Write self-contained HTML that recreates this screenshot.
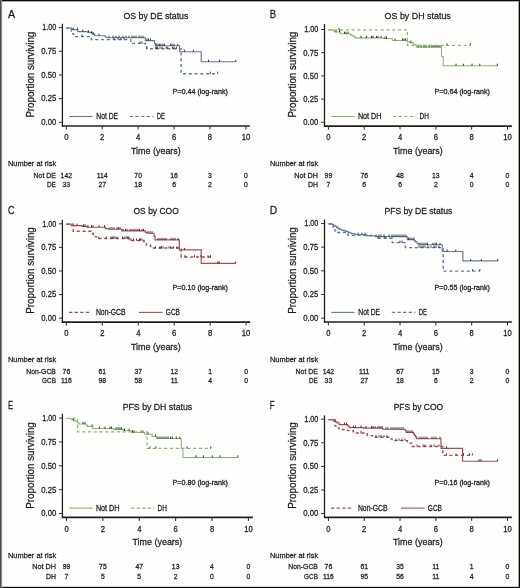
<!DOCTYPE html>
<html><head><meta charset="utf-8"><style>
html,body{margin:0;padding:0;background:#fff;}
svg{display:block;}
text{font-family:"Liberation Sans",sans-serif;stroke:#231f20;stroke-width:0.28px;}
</style></head><body>
<svg width="520" height="588" viewBox="0 0 520 588">
<rect x="0" y="0" width="520" height="588" fill="#fefefd"/>
<line x1="62.40" y1="23.80" x2="62.40" y2="126.60" stroke="#231f20" stroke-width="1.3"/>
<line x1="61.80" y1="126.00" x2="249.80" y2="126.00" stroke="#231f20" stroke-width="1.6"/>
<line x1="59.00" y1="27.60" x2="62.40" y2="27.60" stroke="#231f20" stroke-width="0.9"/>
<line x1="59.00" y1="51.27" x2="62.40" y2="51.27" stroke="#231f20" stroke-width="0.9"/>
<line x1="59.00" y1="74.95" x2="62.40" y2="74.95" stroke="#231f20" stroke-width="0.9"/>
<line x1="59.00" y1="98.62" x2="62.40" y2="98.62" stroke="#231f20" stroke-width="0.9"/>
<line x1="59.00" y1="122.30" x2="62.40" y2="122.30" stroke="#231f20" stroke-width="0.9"/>
<line x1="66.30" y1="126.10" x2="66.30" y2="129.50" stroke="#2a2a2a" stroke-width="1.0"/>
<line x1="102.22" y1="126.10" x2="102.22" y2="129.50" stroke="#2a2a2a" stroke-width="1.0"/>
<line x1="138.14" y1="126.10" x2="138.14" y2="129.50" stroke="#2a2a2a" stroke-width="1.0"/>
<line x1="174.06" y1="126.10" x2="174.06" y2="129.50" stroke="#2a2a2a" stroke-width="1.0"/>
<line x1="209.98" y1="126.10" x2="209.98" y2="129.50" stroke="#2a2a2a" stroke-width="1.0"/>
<line x1="245.90" y1="126.10" x2="245.90" y2="129.50" stroke="#2a2a2a" stroke-width="1.0"/>
<line x1="69.20" y1="116.50" x2="92.50" y2="116.50" stroke="#62789f" stroke-width="1.1"/>
<line x1="129.80" y1="116.50" x2="153.40" y2="116.50" stroke="#62789f" stroke-width="1.15" stroke-dasharray="3.4 2.2"/>
<path d="M66.3,27.6 H71.3 V28.6 H72.5 V29.2 H77.8 V31.3 H87.8 V32 H91.3 V32.8 H93 V34 H94.8 V35.4 H105.2 V36.4 H106 V37.4 H145.4 V40.2 H154.5 V43 H155.5 V45.4 H179.6 V51.4 H201.2 V61.4 H235.8" fill="none" stroke="#62799f" stroke-width="1.15" transform="translate(0,0.35)"/>
<line x1="73.20" y1="27.50" x2="73.20" y2="29.70" stroke="#2a2a2a" stroke-width="0.9"/>
<line x1="77.50" y1="27.50" x2="77.50" y2="29.70" stroke="#2a2a2a" stroke-width="0.9"/>
<line x1="82.80" y1="29.60" x2="82.80" y2="31.80" stroke="#2a2a2a" stroke-width="0.9"/>
<line x1="88.50" y1="30.30" x2="88.50" y2="32.50" stroke="#2a2a2a" stroke-width="0.9"/>
<line x1="91.70" y1="31.10" x2="91.70" y2="33.30" stroke="#2a2a2a" stroke-width="0.9"/>
<line x1="93.20" y1="32.30" x2="93.20" y2="34.50" stroke="#2a2a2a" stroke-width="0.9"/>
<line x1="99.00" y1="33.70" x2="99.00" y2="35.90" stroke="#2a2a2a" stroke-width="0.9"/>
<line x1="109.00" y1="35.70" x2="109.00" y2="37.90" stroke="#2a2a2a" stroke-width="0.9"/>
<line x1="113.00" y1="35.70" x2="113.00" y2="37.90" stroke="#2a2a2a" stroke-width="0.9"/>
<line x1="116.00" y1="35.70" x2="116.00" y2="37.90" stroke="#2a2a2a" stroke-width="0.9"/>
<line x1="119.00" y1="35.70" x2="119.00" y2="37.90" stroke="#2a2a2a" stroke-width="0.9"/>
<line x1="123.00" y1="35.70" x2="123.00" y2="37.90" stroke="#2a2a2a" stroke-width="0.9"/>
<line x1="126.00" y1="35.70" x2="126.00" y2="37.90" stroke="#2a2a2a" stroke-width="0.9"/>
<line x1="129.00" y1="35.70" x2="129.00" y2="37.90" stroke="#2a2a2a" stroke-width="0.9"/>
<line x1="132.00" y1="35.70" x2="132.00" y2="37.90" stroke="#2a2a2a" stroke-width="0.9"/>
<line x1="134.00" y1="35.70" x2="134.00" y2="37.90" stroke="#2a2a2a" stroke-width="0.9"/>
<line x1="136.00" y1="35.70" x2="136.00" y2="37.90" stroke="#2a2a2a" stroke-width="0.9"/>
<line x1="139.00" y1="35.70" x2="139.00" y2="37.90" stroke="#2a2a2a" stroke-width="0.9"/>
<line x1="141.00" y1="35.70" x2="141.00" y2="37.90" stroke="#2a2a2a" stroke-width="0.9"/>
<line x1="143.00" y1="35.70" x2="143.00" y2="37.90" stroke="#2a2a2a" stroke-width="0.9"/>
<line x1="147.00" y1="38.50" x2="147.00" y2="40.70" stroke="#2a2a2a" stroke-width="0.9"/>
<line x1="148.50" y1="38.50" x2="148.50" y2="40.70" stroke="#2a2a2a" stroke-width="0.9"/>
<line x1="150.40" y1="38.50" x2="150.40" y2="40.70" stroke="#2a2a2a" stroke-width="0.9"/>
<line x1="156.70" y1="43.70" x2="156.70" y2="45.90" stroke="#2a2a2a" stroke-width="0.9"/>
<line x1="158.10" y1="43.70" x2="158.10" y2="45.90" stroke="#2a2a2a" stroke-width="0.9"/>
<line x1="159.60" y1="43.70" x2="159.60" y2="45.90" stroke="#2a2a2a" stroke-width="0.9"/>
<line x1="161.00" y1="43.70" x2="161.00" y2="45.90" stroke="#2a2a2a" stroke-width="0.9"/>
<line x1="162.90" y1="43.70" x2="162.90" y2="45.90" stroke="#2a2a2a" stroke-width="0.9"/>
<line x1="164.40" y1="43.70" x2="164.40" y2="45.90" stroke="#2a2a2a" stroke-width="0.9"/>
<line x1="170.60" y1="43.70" x2="170.60" y2="45.90" stroke="#2a2a2a" stroke-width="0.9"/>
<line x1="172.00" y1="43.70" x2="172.00" y2="45.90" stroke="#2a2a2a" stroke-width="0.9"/>
<line x1="174.00" y1="43.70" x2="174.00" y2="45.90" stroke="#2a2a2a" stroke-width="0.9"/>
<line x1="177.80" y1="43.70" x2="177.80" y2="45.90" stroke="#2a2a2a" stroke-width="0.9"/>
<line x1="184.60" y1="49.70" x2="184.60" y2="51.90" stroke="#2a2a2a" stroke-width="0.9"/>
<line x1="193.40" y1="49.70" x2="193.40" y2="51.90" stroke="#2a2a2a" stroke-width="0.9"/>
<line x1="208.50" y1="59.70" x2="208.50" y2="61.90" stroke="#2a2a2a" stroke-width="0.9"/>
<line x1="219.50" y1="59.70" x2="219.50" y2="61.90" stroke="#2a2a2a" stroke-width="0.9"/>
<line x1="235.80" y1="59.70" x2="235.80" y2="61.90" stroke="#2a2a2a" stroke-width="0.9"/>
<path d="M66.3,27.6 H71.3 V33.4 H73.6 V36.2 H91.3 V39.2 H130.8 V43.1 H145.5 V45.5 H146.6 V48.4 H181.1 V73.4 H217.7" fill="none" stroke="#62799f" stroke-width="1.3499999999999999" stroke-dasharray="3.1 2.7" transform="translate(0,0.35)"/>
<line x1="82.00" y1="34.50" x2="82.00" y2="36.70" stroke="#2a2a2a" stroke-width="0.9"/>
<line x1="114.00" y1="37.50" x2="114.00" y2="39.70" stroke="#2a2a2a" stroke-width="0.9"/>
<line x1="118.00" y1="37.50" x2="118.00" y2="39.70" stroke="#2a2a2a" stroke-width="0.9"/>
<line x1="121.00" y1="37.50" x2="121.00" y2="39.70" stroke="#2a2a2a" stroke-width="0.9"/>
<line x1="124.00" y1="37.50" x2="124.00" y2="39.70" stroke="#2a2a2a" stroke-width="0.9"/>
<line x1="140.00" y1="41.40" x2="140.00" y2="43.60" stroke="#2a2a2a" stroke-width="0.9"/>
<line x1="142.00" y1="41.40" x2="142.00" y2="43.60" stroke="#2a2a2a" stroke-width="0.9"/>
<line x1="147.00" y1="46.70" x2="147.00" y2="48.90" stroke="#2a2a2a" stroke-width="0.9"/>
<line x1="155.70" y1="46.70" x2="155.70" y2="48.90" stroke="#2a2a2a" stroke-width="0.9"/>
<line x1="156.70" y1="46.70" x2="156.70" y2="48.90" stroke="#2a2a2a" stroke-width="0.9"/>
<line x1="157.60" y1="46.70" x2="157.60" y2="48.90" stroke="#2a2a2a" stroke-width="0.9"/>
<line x1="160.00" y1="46.70" x2="160.00" y2="48.90" stroke="#2a2a2a" stroke-width="0.9"/>
<line x1="162.00" y1="46.70" x2="162.00" y2="48.90" stroke="#2a2a2a" stroke-width="0.9"/>
<line x1="166.30" y1="46.70" x2="166.30" y2="48.90" stroke="#2a2a2a" stroke-width="0.9"/>
<line x1="167.70" y1="46.70" x2="167.70" y2="48.90" stroke="#2a2a2a" stroke-width="0.9"/>
<line x1="172.50" y1="46.70" x2="172.50" y2="48.90" stroke="#2a2a2a" stroke-width="0.9"/>
<line x1="174.00" y1="46.70" x2="174.00" y2="48.90" stroke="#2a2a2a" stroke-width="0.9"/>
<line x1="176.40" y1="46.70" x2="176.40" y2="48.90" stroke="#2a2a2a" stroke-width="0.9"/>
<line x1="210.30" y1="71.70" x2="210.30" y2="73.90" stroke="#2a2a2a" stroke-width="0.9"/>
<line x1="217.70" y1="71.70" x2="217.70" y2="73.90" stroke="#2a2a2a" stroke-width="0.9"/>
<line x1="324.50" y1="24.00" x2="324.50" y2="126.70" stroke="#231f20" stroke-width="1.3"/>
<line x1="323.90" y1="126.10" x2="511.90" y2="126.10" stroke="#231f20" stroke-width="1.6"/>
<line x1="321.10" y1="29.50" x2="324.50" y2="29.50" stroke="#231f20" stroke-width="0.9"/>
<line x1="321.10" y1="52.70" x2="324.50" y2="52.70" stroke="#231f20" stroke-width="0.9"/>
<line x1="321.10" y1="75.90" x2="324.50" y2="75.90" stroke="#231f20" stroke-width="0.9"/>
<line x1="321.10" y1="99.10" x2="324.50" y2="99.10" stroke="#231f20" stroke-width="0.9"/>
<line x1="321.10" y1="122.30" x2="324.50" y2="122.30" stroke="#231f20" stroke-width="0.9"/>
<line x1="328.40" y1="126.20" x2="328.40" y2="129.60" stroke="#2a2a2a" stroke-width="1.0"/>
<line x1="364.22" y1="126.20" x2="364.22" y2="129.60" stroke="#2a2a2a" stroke-width="1.0"/>
<line x1="400.04" y1="126.20" x2="400.04" y2="129.60" stroke="#2a2a2a" stroke-width="1.0"/>
<line x1="435.86" y1="126.20" x2="435.86" y2="129.60" stroke="#2a2a2a" stroke-width="1.0"/>
<line x1="471.68" y1="126.20" x2="471.68" y2="129.60" stroke="#2a2a2a" stroke-width="1.0"/>
<line x1="507.50" y1="126.20" x2="507.50" y2="129.60" stroke="#2a2a2a" stroke-width="1.0"/>
<line x1="331.20" y1="116.50" x2="354.50" y2="116.50" stroke="#86b672" stroke-width="1.1"/>
<line x1="393.00" y1="116.50" x2="416.20" y2="116.50" stroke="#86b672" stroke-width="1.15" stroke-dasharray="3.4 2.2"/>
<path d="M328.4,29.5 H333.2 V30.7 H334.7 V31.7 H340.4 V33.4 H350.5 V34.5 H352 V35.5 H354 V36.5 H355.3 V37.5 H383.1 V38.2 H392.3 V40.1 H407.2 V41.5 H409.6 V42.3 H413.4 V44.4 H416.2 V46.8 H441.5 V56.4 H443.2 V65.4 H497.3" fill="none" stroke="#86b96e" stroke-width="1.05" transform="translate(0,0.35)"/>
<line x1="336.00" y1="30.00" x2="336.00" y2="32.20" stroke="#2a2a2a" stroke-width="0.9"/>
<line x1="339.50" y1="30.00" x2="339.50" y2="32.20" stroke="#2a2a2a" stroke-width="0.9"/>
<line x1="344.50" y1="31.70" x2="344.50" y2="33.90" stroke="#2a2a2a" stroke-width="0.9"/>
<line x1="346.00" y1="31.70" x2="346.00" y2="33.90" stroke="#2a2a2a" stroke-width="0.9"/>
<line x1="348.00" y1="31.70" x2="348.00" y2="33.90" stroke="#2a2a2a" stroke-width="0.9"/>
<line x1="361.00" y1="35.80" x2="361.00" y2="38.00" stroke="#2a2a2a" stroke-width="0.9"/>
<line x1="366.50" y1="35.80" x2="366.50" y2="38.00" stroke="#2a2a2a" stroke-width="0.9"/>
<line x1="371.50" y1="35.80" x2="371.50" y2="38.00" stroke="#2a2a2a" stroke-width="0.9"/>
<line x1="373.00" y1="35.80" x2="373.00" y2="38.00" stroke="#2a2a2a" stroke-width="0.9"/>
<line x1="376.50" y1="35.80" x2="376.50" y2="38.00" stroke="#2a2a2a" stroke-width="0.9"/>
<line x1="378.00" y1="35.80" x2="378.00" y2="38.00" stroke="#2a2a2a" stroke-width="0.9"/>
<line x1="381.00" y1="35.80" x2="381.00" y2="38.00" stroke="#2a2a2a" stroke-width="0.9"/>
<line x1="385.00" y1="36.50" x2="385.00" y2="38.70" stroke="#2a2a2a" stroke-width="0.9"/>
<line x1="386.50" y1="36.50" x2="386.50" y2="38.70" stroke="#2a2a2a" stroke-width="0.9"/>
<line x1="395.00" y1="38.40" x2="395.00" y2="40.60" stroke="#2a2a2a" stroke-width="0.9"/>
<line x1="402.50" y1="38.40" x2="402.50" y2="40.60" stroke="#2a2a2a" stroke-width="0.9"/>
<line x1="404.00" y1="38.40" x2="404.00" y2="40.60" stroke="#2a2a2a" stroke-width="0.9"/>
<line x1="405.50" y1="38.40" x2="405.50" y2="40.60" stroke="#2a2a2a" stroke-width="0.9"/>
<line x1="411.00" y1="40.60" x2="411.00" y2="42.80" stroke="#2a2a2a" stroke-width="0.9"/>
<line x1="418.00" y1="45.10" x2="418.00" y2="47.30" stroke="#2a2a2a" stroke-width="0.9"/>
<line x1="421.00" y1="45.10" x2="421.00" y2="47.30" stroke="#2a2a2a" stroke-width="0.9"/>
<line x1="424.00" y1="45.10" x2="424.00" y2="47.30" stroke="#2a2a2a" stroke-width="0.9"/>
<line x1="426.00" y1="45.10" x2="426.00" y2="47.30" stroke="#2a2a2a" stroke-width="0.9"/>
<line x1="429.00" y1="45.10" x2="429.00" y2="47.30" stroke="#2a2a2a" stroke-width="0.9"/>
<line x1="432.00" y1="45.10" x2="432.00" y2="47.30" stroke="#2a2a2a" stroke-width="0.9"/>
<line x1="434.00" y1="45.10" x2="434.00" y2="47.30" stroke="#2a2a2a" stroke-width="0.9"/>
<line x1="436.00" y1="45.10" x2="436.00" y2="47.30" stroke="#2a2a2a" stroke-width="0.9"/>
<line x1="438.00" y1="45.10" x2="438.00" y2="47.30" stroke="#2a2a2a" stroke-width="0.9"/>
<line x1="440.00" y1="45.10" x2="440.00" y2="47.30" stroke="#2a2a2a" stroke-width="0.9"/>
<line x1="456.00" y1="63.70" x2="456.00" y2="65.90" stroke="#2a2a2a" stroke-width="0.9"/>
<line x1="463.40" y1="63.70" x2="463.40" y2="65.90" stroke="#2a2a2a" stroke-width="0.9"/>
<line x1="472.00" y1="63.70" x2="472.00" y2="65.90" stroke="#2a2a2a" stroke-width="0.9"/>
<line x1="479.80" y1="63.70" x2="479.80" y2="65.90" stroke="#2a2a2a" stroke-width="0.9"/>
<line x1="497.30" y1="63.70" x2="497.30" y2="65.90" stroke="#2a2a2a" stroke-width="0.9"/>
<path d="M328.4,29.5 H407.4 V45.0 H470.3" fill="none" stroke="#86b96e" stroke-width="1.25" stroke-dasharray="3.1 2.7" transform="translate(0,0.35)"/>
<line x1="339.00" y1="27.80" x2="339.00" y2="30.00" stroke="#2a2a2a" stroke-width="0.9"/>
<line x1="447.00" y1="43.30" x2="447.00" y2="45.50" stroke="#2a2a2a" stroke-width="0.9"/>
<line x1="470.30" y1="43.30" x2="470.30" y2="45.50" stroke="#2a2a2a" stroke-width="0.9"/>
<line x1="62.40" y1="219.80" x2="62.40" y2="322.70" stroke="#231f20" stroke-width="1.3"/>
<line x1="61.80" y1="322.10" x2="250.20" y2="322.10" stroke="#231f20" stroke-width="1.6"/>
<line x1="59.00" y1="223.80" x2="62.40" y2="223.80" stroke="#231f20" stroke-width="0.9"/>
<line x1="59.00" y1="247.40" x2="62.40" y2="247.40" stroke="#231f20" stroke-width="0.9"/>
<line x1="59.00" y1="271.00" x2="62.40" y2="271.00" stroke="#231f20" stroke-width="0.9"/>
<line x1="59.00" y1="294.60" x2="62.40" y2="294.60" stroke="#231f20" stroke-width="0.9"/>
<line x1="59.00" y1="318.20" x2="62.40" y2="318.20" stroke="#231f20" stroke-width="0.9"/>
<line x1="66.40" y1="322.20" x2="66.40" y2="325.60" stroke="#2a2a2a" stroke-width="1.0"/>
<line x1="102.34" y1="322.20" x2="102.34" y2="325.60" stroke="#2a2a2a" stroke-width="1.0"/>
<line x1="138.28" y1="322.20" x2="138.28" y2="325.60" stroke="#2a2a2a" stroke-width="1.0"/>
<line x1="174.22" y1="322.20" x2="174.22" y2="325.60" stroke="#2a2a2a" stroke-width="1.0"/>
<line x1="210.16" y1="322.20" x2="210.16" y2="325.60" stroke="#2a2a2a" stroke-width="1.0"/>
<line x1="246.10" y1="322.20" x2="246.10" y2="325.60" stroke="#2a2a2a" stroke-width="1.0"/>
<line x1="69.00" y1="312.40" x2="91.20" y2="312.40" stroke="#b04a5e" stroke-width="1.15" stroke-dasharray="3.4 2.2"/>
<line x1="139.00" y1="312.40" x2="162.60" y2="312.40" stroke="#b04a5e" stroke-width="1.1"/>
<path d="M66.4,223.8 H71.2 V225.3 H81.8 V226 H87 V226.9 H105.3 V228.2 H108.8 V228.9 H121.8 V230.5 H145.3 V232.1 H146.8 V232.9 H154.1 V236 H155 V239.6 H179.3 V249.6 H201.2 V263.1 H235.7" fill="none" stroke="#b0485c" stroke-width="1.2" transform="translate(0,0.35)"/>
<line x1="73.50" y1="223.60" x2="73.50" y2="225.80" stroke="#2a2a2a" stroke-width="0.9"/>
<line x1="77.00" y1="223.60" x2="77.00" y2="225.80" stroke="#2a2a2a" stroke-width="0.9"/>
<line x1="83.50" y1="224.30" x2="83.50" y2="226.50" stroke="#2a2a2a" stroke-width="0.9"/>
<line x1="85.00" y1="224.30" x2="85.00" y2="226.50" stroke="#2a2a2a" stroke-width="0.9"/>
<line x1="88.00" y1="225.20" x2="88.00" y2="227.40" stroke="#2a2a2a" stroke-width="0.9"/>
<line x1="91.50" y1="225.20" x2="91.50" y2="227.40" stroke="#2a2a2a" stroke-width="0.9"/>
<line x1="93.00" y1="225.20" x2="93.00" y2="227.40" stroke="#2a2a2a" stroke-width="0.9"/>
<line x1="99.00" y1="225.20" x2="99.00" y2="227.40" stroke="#2a2a2a" stroke-width="0.9"/>
<line x1="104.50" y1="225.20" x2="104.50" y2="227.40" stroke="#2a2a2a" stroke-width="0.9"/>
<line x1="110.00" y1="227.20" x2="110.00" y2="229.40" stroke="#2a2a2a" stroke-width="0.9"/>
<line x1="112.00" y1="227.20" x2="112.00" y2="229.40" stroke="#2a2a2a" stroke-width="0.9"/>
<line x1="114.00" y1="227.20" x2="114.00" y2="229.40" stroke="#2a2a2a" stroke-width="0.9"/>
<line x1="117.00" y1="227.20" x2="117.00" y2="229.40" stroke="#2a2a2a" stroke-width="0.9"/>
<line x1="118.50" y1="227.20" x2="118.50" y2="229.40" stroke="#2a2a2a" stroke-width="0.9"/>
<line x1="120.00" y1="227.20" x2="120.00" y2="229.40" stroke="#2a2a2a" stroke-width="0.9"/>
<line x1="123.00" y1="228.80" x2="123.00" y2="231.00" stroke="#2a2a2a" stroke-width="0.9"/>
<line x1="125.50" y1="228.80" x2="125.50" y2="231.00" stroke="#2a2a2a" stroke-width="0.9"/>
<line x1="127.00" y1="228.80" x2="127.00" y2="231.00" stroke="#2a2a2a" stroke-width="0.9"/>
<line x1="130.00" y1="228.80" x2="130.00" y2="231.00" stroke="#2a2a2a" stroke-width="0.9"/>
<line x1="132.00" y1="228.80" x2="132.00" y2="231.00" stroke="#2a2a2a" stroke-width="0.9"/>
<line x1="134.00" y1="228.80" x2="134.00" y2="231.00" stroke="#2a2a2a" stroke-width="0.9"/>
<line x1="136.00" y1="228.80" x2="136.00" y2="231.00" stroke="#2a2a2a" stroke-width="0.9"/>
<line x1="138.00" y1="228.80" x2="138.00" y2="231.00" stroke="#2a2a2a" stroke-width="0.9"/>
<line x1="139.50" y1="228.80" x2="139.50" y2="231.00" stroke="#2a2a2a" stroke-width="0.9"/>
<line x1="142.00" y1="228.80" x2="142.00" y2="231.00" stroke="#2a2a2a" stroke-width="0.9"/>
<line x1="143.50" y1="228.80" x2="143.50" y2="231.00" stroke="#2a2a2a" stroke-width="0.9"/>
<line x1="148.00" y1="231.20" x2="148.00" y2="233.40" stroke="#2a2a2a" stroke-width="0.9"/>
<line x1="150.00" y1="231.20" x2="150.00" y2="233.40" stroke="#2a2a2a" stroke-width="0.9"/>
<line x1="152.00" y1="231.20" x2="152.00" y2="233.40" stroke="#2a2a2a" stroke-width="0.9"/>
<line x1="158.00" y1="237.90" x2="158.00" y2="240.10" stroke="#2a2a2a" stroke-width="0.9"/>
<line x1="160.00" y1="237.90" x2="160.00" y2="240.10" stroke="#2a2a2a" stroke-width="0.9"/>
<line x1="162.00" y1="237.90" x2="162.00" y2="240.10" stroke="#2a2a2a" stroke-width="0.9"/>
<line x1="164.00" y1="237.90" x2="164.00" y2="240.10" stroke="#2a2a2a" stroke-width="0.9"/>
<line x1="166.00" y1="237.90" x2="166.00" y2="240.10" stroke="#2a2a2a" stroke-width="0.9"/>
<line x1="171.00" y1="237.90" x2="171.00" y2="240.10" stroke="#2a2a2a" stroke-width="0.9"/>
<line x1="173.00" y1="237.90" x2="173.00" y2="240.10" stroke="#2a2a2a" stroke-width="0.9"/>
<line x1="175.00" y1="237.90" x2="175.00" y2="240.10" stroke="#2a2a2a" stroke-width="0.9"/>
<line x1="178.00" y1="237.90" x2="178.00" y2="240.10" stroke="#2a2a2a" stroke-width="0.9"/>
<line x1="184.60" y1="247.90" x2="184.60" y2="250.10" stroke="#2a2a2a" stroke-width="0.9"/>
<line x1="217.80" y1="261.40" x2="217.80" y2="263.60" stroke="#2a2a2a" stroke-width="0.9"/>
<line x1="219.20" y1="261.40" x2="219.20" y2="263.60" stroke="#2a2a2a" stroke-width="0.9"/>
<line x1="235.70" y1="261.40" x2="235.70" y2="263.60" stroke="#2a2a2a" stroke-width="0.9"/>
<path d="M66.4,223.8 H73.2 V230.9 H90.8 V232.2 H91.8 V233.2 H93.3 V236.3 H96.5 V238.2 H129.4 V239.2 H131 V240.2 H143.8 V241.2 H145 V242.3 H146.4 V244.7 H150.5 V246.2 H152 V247.7 H181.2 V256.6 H210.5" fill="none" stroke="#b0485c" stroke-width="1.4" stroke-dasharray="3.1 2.7" transform="translate(0,0.35)"/>
<line x1="98.80" y1="236.50" x2="98.80" y2="238.70" stroke="#2a2a2a" stroke-width="0.9"/>
<line x1="106.30" y1="236.50" x2="106.30" y2="238.70" stroke="#2a2a2a" stroke-width="0.9"/>
<line x1="111.20" y1="236.50" x2="111.20" y2="238.70" stroke="#2a2a2a" stroke-width="0.9"/>
<line x1="112.70" y1="236.50" x2="112.70" y2="238.70" stroke="#2a2a2a" stroke-width="0.9"/>
<line x1="113.80" y1="236.50" x2="113.80" y2="238.70" stroke="#2a2a2a" stroke-width="0.9"/>
<line x1="115.00" y1="236.50" x2="115.00" y2="238.70" stroke="#2a2a2a" stroke-width="0.9"/>
<line x1="117.00" y1="236.50" x2="117.00" y2="238.70" stroke="#2a2a2a" stroke-width="0.9"/>
<line x1="122.50" y1="236.50" x2="122.50" y2="238.70" stroke="#2a2a2a" stroke-width="0.9"/>
<line x1="124.80" y1="236.50" x2="124.80" y2="238.70" stroke="#2a2a2a" stroke-width="0.9"/>
<line x1="126.20" y1="236.50" x2="126.20" y2="238.70" stroke="#2a2a2a" stroke-width="0.9"/>
<line x1="127.40" y1="236.50" x2="127.40" y2="238.70" stroke="#2a2a2a" stroke-width="0.9"/>
<line x1="128.80" y1="236.50" x2="128.80" y2="238.70" stroke="#2a2a2a" stroke-width="0.9"/>
<line x1="131.00" y1="238.50" x2="131.00" y2="240.70" stroke="#2a2a2a" stroke-width="0.9"/>
<line x1="133.50" y1="238.50" x2="133.50" y2="240.70" stroke="#2a2a2a" stroke-width="0.9"/>
<line x1="136.50" y1="238.50" x2="136.50" y2="240.70" stroke="#2a2a2a" stroke-width="0.9"/>
<line x1="139.50" y1="238.50" x2="139.50" y2="240.70" stroke="#2a2a2a" stroke-width="0.9"/>
<line x1="140.50" y1="238.50" x2="140.50" y2="240.70" stroke="#2a2a2a" stroke-width="0.9"/>
<line x1="142.00" y1="238.50" x2="142.00" y2="240.70" stroke="#2a2a2a" stroke-width="0.9"/>
<line x1="155.50" y1="246.30" x2="155.50" y2="248.50" stroke="#2a2a2a" stroke-width="0.9"/>
<line x1="160.00" y1="246.30" x2="160.00" y2="248.50" stroke="#2a2a2a" stroke-width="0.9"/>
<line x1="161.50" y1="246.30" x2="161.50" y2="248.50" stroke="#2a2a2a" stroke-width="0.9"/>
<line x1="163.00" y1="246.30" x2="163.00" y2="248.50" stroke="#2a2a2a" stroke-width="0.9"/>
<line x1="169.00" y1="246.30" x2="169.00" y2="248.50" stroke="#2a2a2a" stroke-width="0.9"/>
<line x1="170.50" y1="246.30" x2="170.50" y2="248.50" stroke="#2a2a2a" stroke-width="0.9"/>
<line x1="173.50" y1="246.30" x2="173.50" y2="248.50" stroke="#2a2a2a" stroke-width="0.9"/>
<line x1="177.00" y1="246.30" x2="177.00" y2="248.50" stroke="#2a2a2a" stroke-width="0.9"/>
<line x1="185.00" y1="255.20" x2="185.00" y2="257.40" stroke="#2a2a2a" stroke-width="0.9"/>
<line x1="194.50" y1="255.20" x2="194.50" y2="257.40" stroke="#2a2a2a" stroke-width="0.9"/>
<line x1="201.00" y1="255.20" x2="201.00" y2="257.40" stroke="#2a2a2a" stroke-width="0.9"/>
<line x1="208.00" y1="255.20" x2="208.00" y2="257.40" stroke="#2a2a2a" stroke-width="0.9"/>
<line x1="210.50" y1="255.20" x2="210.50" y2="257.40" stroke="#2a2a2a" stroke-width="0.9"/>
<line x1="324.50" y1="219.40" x2="324.50" y2="322.60" stroke="#231f20" stroke-width="1.3"/>
<line x1="323.90" y1="322.00" x2="511.90" y2="322.00" stroke="#231f20" stroke-width="1.6"/>
<line x1="321.10" y1="223.50" x2="324.50" y2="223.50" stroke="#231f20" stroke-width="0.9"/>
<line x1="321.10" y1="247.18" x2="324.50" y2="247.18" stroke="#231f20" stroke-width="0.9"/>
<line x1="321.10" y1="270.85" x2="324.50" y2="270.85" stroke="#231f20" stroke-width="0.9"/>
<line x1="321.10" y1="294.52" x2="324.50" y2="294.52" stroke="#231f20" stroke-width="0.9"/>
<line x1="321.10" y1="318.20" x2="324.50" y2="318.20" stroke="#231f20" stroke-width="0.9"/>
<line x1="328.40" y1="322.10" x2="328.40" y2="325.50" stroke="#2a2a2a" stroke-width="1.0"/>
<line x1="364.22" y1="322.10" x2="364.22" y2="325.50" stroke="#2a2a2a" stroke-width="1.0"/>
<line x1="400.04" y1="322.10" x2="400.04" y2="325.50" stroke="#2a2a2a" stroke-width="1.0"/>
<line x1="435.86" y1="322.10" x2="435.86" y2="325.50" stroke="#2a2a2a" stroke-width="1.0"/>
<line x1="471.68" y1="322.10" x2="471.68" y2="325.50" stroke="#2a2a2a" stroke-width="1.0"/>
<line x1="507.50" y1="322.10" x2="507.50" y2="325.50" stroke="#2a2a2a" stroke-width="1.0"/>
<line x1="331.20" y1="312.40" x2="354.50" y2="312.40" stroke="#62789f" stroke-width="1.1"/>
<line x1="391.80" y1="312.40" x2="415.40" y2="312.40" stroke="#62789f" stroke-width="1.15" stroke-dasharray="3.4 2.2"/>
<path d="M328.4,223.5 H332.3 V224.3 H333.5 V225 H335 V226 H336.5 V227 H338 V228 H339.5 V229 H341.4 V229.8 H344 V230.5 H346 V231 H348 V232 H350 V232.6 H351.5 V233.2 H355 V234.4 H366.9 V235.5 H375.4 V236.2 H407.2 V239.2 H414.2 V240.5 H415.5 V241.5 H417 V243 H418.5 V244.4 H442.2 V251.1 H462.9 V260.5 H497.8" fill="none" stroke="#62799f" stroke-width="1.15" transform="translate(0,0.35)"/>
<line x1="358.00" y1="232.70" x2="358.00" y2="234.90" stroke="#2a2a2a" stroke-width="0.9"/>
<line x1="362.00" y1="232.70" x2="362.00" y2="234.90" stroke="#2a2a2a" stroke-width="0.9"/>
<line x1="365.00" y1="232.70" x2="365.00" y2="234.90" stroke="#2a2a2a" stroke-width="0.9"/>
<line x1="379.00" y1="234.50" x2="379.00" y2="236.70" stroke="#2a2a2a" stroke-width="0.9"/>
<line x1="381.00" y1="234.50" x2="381.00" y2="236.70" stroke="#2a2a2a" stroke-width="0.9"/>
<line x1="384.00" y1="234.50" x2="384.00" y2="236.70" stroke="#2a2a2a" stroke-width="0.9"/>
<line x1="389.00" y1="234.50" x2="389.00" y2="236.70" stroke="#2a2a2a" stroke-width="0.9"/>
<line x1="392.00" y1="234.50" x2="392.00" y2="236.70" stroke="#2a2a2a" stroke-width="0.9"/>
<line x1="394.00" y1="234.50" x2="394.00" y2="236.70" stroke="#2a2a2a" stroke-width="0.9"/>
<line x1="396.00" y1="234.50" x2="396.00" y2="236.70" stroke="#2a2a2a" stroke-width="0.9"/>
<line x1="398.00" y1="234.50" x2="398.00" y2="236.70" stroke="#2a2a2a" stroke-width="0.9"/>
<line x1="400.00" y1="234.50" x2="400.00" y2="236.70" stroke="#2a2a2a" stroke-width="0.9"/>
<line x1="402.00" y1="234.50" x2="402.00" y2="236.70" stroke="#2a2a2a" stroke-width="0.9"/>
<line x1="404.00" y1="234.50" x2="404.00" y2="236.70" stroke="#2a2a2a" stroke-width="0.9"/>
<line x1="406.00" y1="234.50" x2="406.00" y2="236.70" stroke="#2a2a2a" stroke-width="0.9"/>
<line x1="408.50" y1="237.50" x2="408.50" y2="239.70" stroke="#2a2a2a" stroke-width="0.9"/>
<line x1="410.00" y1="237.50" x2="410.00" y2="239.70" stroke="#2a2a2a" stroke-width="0.9"/>
<line x1="412.00" y1="237.50" x2="412.00" y2="239.70" stroke="#2a2a2a" stroke-width="0.9"/>
<line x1="414.00" y1="237.50" x2="414.00" y2="239.70" stroke="#2a2a2a" stroke-width="0.9"/>
<line x1="420.00" y1="242.70" x2="420.00" y2="244.90" stroke="#2a2a2a" stroke-width="0.9"/>
<line x1="422.00" y1="242.70" x2="422.00" y2="244.90" stroke="#2a2a2a" stroke-width="0.9"/>
<line x1="424.00" y1="242.70" x2="424.00" y2="244.90" stroke="#2a2a2a" stroke-width="0.9"/>
<line x1="426.00" y1="242.70" x2="426.00" y2="244.90" stroke="#2a2a2a" stroke-width="0.9"/>
<line x1="427.50" y1="242.70" x2="427.50" y2="244.90" stroke="#2a2a2a" stroke-width="0.9"/>
<line x1="433.00" y1="242.70" x2="433.00" y2="244.90" stroke="#2a2a2a" stroke-width="0.9"/>
<line x1="435.00" y1="242.70" x2="435.00" y2="244.90" stroke="#2a2a2a" stroke-width="0.9"/>
<line x1="436.50" y1="242.70" x2="436.50" y2="244.90" stroke="#2a2a2a" stroke-width="0.9"/>
<line x1="440.00" y1="242.70" x2="440.00" y2="244.90" stroke="#2a2a2a" stroke-width="0.9"/>
<line x1="447.00" y1="249.40" x2="447.00" y2="251.60" stroke="#2a2a2a" stroke-width="0.9"/>
<line x1="455.70" y1="249.40" x2="455.70" y2="251.60" stroke="#2a2a2a" stroke-width="0.9"/>
<line x1="470.60" y1="258.80" x2="470.60" y2="261.00" stroke="#2a2a2a" stroke-width="0.9"/>
<line x1="481.40" y1="258.80" x2="481.40" y2="261.00" stroke="#2a2a2a" stroke-width="0.9"/>
<line x1="497.80" y1="258.80" x2="497.80" y2="261.00" stroke="#2a2a2a" stroke-width="0.9"/>
<path d="M328.4,223.5 H333.2 V229.3 H335.1 V232.1 H348 V235 H376.5 V237.9 H392.3 V242.3 H405.3 V247.3 H443.2 V270.8 H479.8" fill="none" stroke="#62799f" stroke-width="1.3499999999999999" stroke-dasharray="3.1 2.7" transform="translate(0,0.35)"/>
<line x1="378.00" y1="236.20" x2="378.00" y2="238.40" stroke="#2a2a2a" stroke-width="0.9"/>
<line x1="385.00" y1="236.20" x2="385.00" y2="238.40" stroke="#2a2a2a" stroke-width="0.9"/>
<line x1="400.00" y1="240.60" x2="400.00" y2="242.80" stroke="#2a2a2a" stroke-width="0.9"/>
<line x1="402.00" y1="240.60" x2="402.00" y2="242.80" stroke="#2a2a2a" stroke-width="0.9"/>
<line x1="419.00" y1="245.60" x2="419.00" y2="247.80" stroke="#2a2a2a" stroke-width="0.9"/>
<line x1="421.00" y1="245.60" x2="421.00" y2="247.80" stroke="#2a2a2a" stroke-width="0.9"/>
<line x1="423.00" y1="245.60" x2="423.00" y2="247.80" stroke="#2a2a2a" stroke-width="0.9"/>
<line x1="425.00" y1="245.60" x2="425.00" y2="247.80" stroke="#2a2a2a" stroke-width="0.9"/>
<line x1="428.00" y1="245.60" x2="428.00" y2="247.80" stroke="#2a2a2a" stroke-width="0.9"/>
<line x1="431.00" y1="245.60" x2="431.00" y2="247.80" stroke="#2a2a2a" stroke-width="0.9"/>
<line x1="434.00" y1="245.60" x2="434.00" y2="247.80" stroke="#2a2a2a" stroke-width="0.9"/>
<line x1="436.00" y1="245.60" x2="436.00" y2="247.80" stroke="#2a2a2a" stroke-width="0.9"/>
<line x1="439.00" y1="245.60" x2="439.00" y2="247.80" stroke="#2a2a2a" stroke-width="0.9"/>
<line x1="472.60" y1="269.10" x2="472.60" y2="271.30" stroke="#2a2a2a" stroke-width="0.9"/>
<line x1="479.80" y1="269.10" x2="479.80" y2="271.30" stroke="#2a2a2a" stroke-width="0.9"/>
<line x1="62.40" y1="413.80" x2="62.40" y2="518.00" stroke="#231f20" stroke-width="1.3"/>
<line x1="61.80" y1="517.40" x2="252.80" y2="517.40" stroke="#231f20" stroke-width="1.6"/>
<line x1="59.00" y1="418.10" x2="62.40" y2="418.10" stroke="#231f20" stroke-width="0.9"/>
<line x1="59.00" y1="441.95" x2="62.40" y2="441.95" stroke="#231f20" stroke-width="0.9"/>
<line x1="59.00" y1="465.80" x2="62.40" y2="465.80" stroke="#231f20" stroke-width="0.9"/>
<line x1="59.00" y1="489.65" x2="62.40" y2="489.65" stroke="#231f20" stroke-width="0.9"/>
<line x1="59.00" y1="513.50" x2="62.40" y2="513.50" stroke="#231f20" stroke-width="0.9"/>
<line x1="66.50" y1="517.50" x2="66.50" y2="520.90" stroke="#2a2a2a" stroke-width="1.0"/>
<line x1="102.88" y1="517.50" x2="102.88" y2="520.90" stroke="#2a2a2a" stroke-width="1.0"/>
<line x1="139.26" y1="517.50" x2="139.26" y2="520.90" stroke="#2a2a2a" stroke-width="1.0"/>
<line x1="175.64" y1="517.50" x2="175.64" y2="520.90" stroke="#2a2a2a" stroke-width="1.0"/>
<line x1="212.02" y1="517.50" x2="212.02" y2="520.90" stroke="#2a2a2a" stroke-width="1.0"/>
<line x1="248.40" y1="517.50" x2="248.40" y2="520.90" stroke="#2a2a2a" stroke-width="1.0"/>
<line x1="69.20" y1="508.10" x2="92.50" y2="508.10" stroke="#86b672" stroke-width="1.1"/>
<line x1="131.00" y1="508.10" x2="154.20" y2="508.10" stroke="#86b672" stroke-width="1.15" stroke-dasharray="3.4 2.2"/>
<path d="M66.5,418.1 H71.2 V418.8 H73 V419.8 H74.6 V420.5 H77.5 V422.2 H79 V423.6 H86.1 V424.8 H87.5 V426 H92.8 V428.2 H113.5 V429 H123.3 V430.4 H132 V432.1 H144.6 V433.8 H152.1 V436.1 H156.7 V438.2 H181.3 V448 H183 V457.2 H237.9" fill="none" stroke="#86b96e" stroke-width="1.05" transform="translate(0,0.35)"/>
<line x1="73.50" y1="418.10" x2="73.50" y2="420.30" stroke="#2a2a2a" stroke-width="0.9"/>
<line x1="83.00" y1="421.90" x2="83.00" y2="424.10" stroke="#2a2a2a" stroke-width="0.9"/>
<line x1="85.00" y1="421.90" x2="85.00" y2="424.10" stroke="#2a2a2a" stroke-width="0.9"/>
<line x1="92.00" y1="424.30" x2="92.00" y2="426.50" stroke="#2a2a2a" stroke-width="0.9"/>
<line x1="99.50" y1="426.50" x2="99.50" y2="428.70" stroke="#2a2a2a" stroke-width="0.9"/>
<line x1="105.00" y1="426.50" x2="105.00" y2="428.70" stroke="#2a2a2a" stroke-width="0.9"/>
<line x1="110.00" y1="426.50" x2="110.00" y2="428.70" stroke="#2a2a2a" stroke-width="0.9"/>
<line x1="111.50" y1="426.50" x2="111.50" y2="428.70" stroke="#2a2a2a" stroke-width="0.9"/>
<line x1="116.00" y1="427.30" x2="116.00" y2="429.50" stroke="#2a2a2a" stroke-width="0.9"/>
<line x1="118.00" y1="427.30" x2="118.00" y2="429.50" stroke="#2a2a2a" stroke-width="0.9"/>
<line x1="120.00" y1="427.30" x2="120.00" y2="429.50" stroke="#2a2a2a" stroke-width="0.9"/>
<line x1="121.50" y1="427.30" x2="121.50" y2="429.50" stroke="#2a2a2a" stroke-width="0.9"/>
<line x1="124.50" y1="428.70" x2="124.50" y2="430.90" stroke="#2a2a2a" stroke-width="0.9"/>
<line x1="129.00" y1="428.70" x2="129.00" y2="430.90" stroke="#2a2a2a" stroke-width="0.9"/>
<line x1="132.50" y1="430.40" x2="132.50" y2="432.60" stroke="#2a2a2a" stroke-width="0.9"/>
<line x1="134.00" y1="430.40" x2="134.00" y2="432.60" stroke="#2a2a2a" stroke-width="0.9"/>
<line x1="141.00" y1="430.40" x2="141.00" y2="432.60" stroke="#2a2a2a" stroke-width="0.9"/>
<line x1="143.00" y1="430.40" x2="143.00" y2="432.60" stroke="#2a2a2a" stroke-width="0.9"/>
<line x1="148.00" y1="432.10" x2="148.00" y2="434.30" stroke="#2a2a2a" stroke-width="0.9"/>
<line x1="155.50" y1="434.40" x2="155.50" y2="436.60" stroke="#2a2a2a" stroke-width="0.9"/>
<line x1="158.00" y1="436.50" x2="158.00" y2="438.70" stroke="#2a2a2a" stroke-width="0.9"/>
<line x1="160.00" y1="436.50" x2="160.00" y2="438.70" stroke="#2a2a2a" stroke-width="0.9"/>
<line x1="162.00" y1="436.50" x2="162.00" y2="438.70" stroke="#2a2a2a" stroke-width="0.9"/>
<line x1="164.00" y1="436.50" x2="164.00" y2="438.70" stroke="#2a2a2a" stroke-width="0.9"/>
<line x1="166.00" y1="436.50" x2="166.00" y2="438.70" stroke="#2a2a2a" stroke-width="0.9"/>
<line x1="168.00" y1="436.50" x2="168.00" y2="438.70" stroke="#2a2a2a" stroke-width="0.9"/>
<line x1="170.60" y1="436.50" x2="170.60" y2="438.70" stroke="#2a2a2a" stroke-width="0.9"/>
<line x1="172.40" y1="436.50" x2="172.40" y2="438.70" stroke="#2a2a2a" stroke-width="0.9"/>
<line x1="176.25" y1="436.50" x2="176.25" y2="438.70" stroke="#2a2a2a" stroke-width="0.9"/>
<line x1="179.80" y1="436.50" x2="179.80" y2="438.70" stroke="#2a2a2a" stroke-width="0.9"/>
<line x1="196.00" y1="455.30" x2="196.00" y2="457.50" stroke="#2a2a2a" stroke-width="0.9"/>
<line x1="203.40" y1="455.30" x2="203.40" y2="457.50" stroke="#2a2a2a" stroke-width="0.9"/>
<line x1="212.30" y1="455.30" x2="212.30" y2="457.50" stroke="#2a2a2a" stroke-width="0.9"/>
<line x1="219.90" y1="455.30" x2="219.90" y2="457.50" stroke="#2a2a2a" stroke-width="0.9"/>
<line x1="237.90" y1="455.30" x2="237.90" y2="457.50" stroke="#2a2a2a" stroke-width="0.9"/>
<path d="M66.5,418.1 H77.5 V431.5 H147 V448.1 H210.8" fill="none" stroke="#86b96e" stroke-width="1.25" stroke-dasharray="3.1 2.7" transform="translate(0,0.35)"/>
<line x1="150.00" y1="446.40" x2="150.00" y2="448.60" stroke="#2a2a2a" stroke-width="0.9"/>
<line x1="155.90" y1="446.40" x2="155.90" y2="448.60" stroke="#2a2a2a" stroke-width="0.9"/>
<line x1="187.00" y1="446.40" x2="187.00" y2="448.60" stroke="#2a2a2a" stroke-width="0.9"/>
<line x1="210.80" y1="446.40" x2="210.80" y2="448.60" stroke="#2a2a2a" stroke-width="0.9"/>
<line x1="324.50" y1="415.40" x2="324.50" y2="518.00" stroke="#231f20" stroke-width="1.3"/>
<line x1="323.90" y1="517.40" x2="511.90" y2="517.40" stroke="#231f20" stroke-width="1.6"/>
<line x1="321.10" y1="419.20" x2="324.50" y2="419.20" stroke="#231f20" stroke-width="0.9"/>
<line x1="321.10" y1="442.77" x2="324.50" y2="442.77" stroke="#231f20" stroke-width="0.9"/>
<line x1="321.10" y1="466.35" x2="324.50" y2="466.35" stroke="#231f20" stroke-width="0.9"/>
<line x1="321.10" y1="489.93" x2="324.50" y2="489.93" stroke="#231f20" stroke-width="0.9"/>
<line x1="321.10" y1="513.50" x2="324.50" y2="513.50" stroke="#231f20" stroke-width="0.9"/>
<line x1="328.40" y1="517.50" x2="328.40" y2="520.90" stroke="#2a2a2a" stroke-width="1.0"/>
<line x1="364.22" y1="517.50" x2="364.22" y2="520.90" stroke="#2a2a2a" stroke-width="1.0"/>
<line x1="400.04" y1="517.50" x2="400.04" y2="520.90" stroke="#2a2a2a" stroke-width="1.0"/>
<line x1="435.86" y1="517.50" x2="435.86" y2="520.90" stroke="#2a2a2a" stroke-width="1.0"/>
<line x1="471.68" y1="517.50" x2="471.68" y2="520.90" stroke="#2a2a2a" stroke-width="1.0"/>
<line x1="507.50" y1="517.50" x2="507.50" y2="520.90" stroke="#2a2a2a" stroke-width="1.0"/>
<line x1="331.00" y1="508.10" x2="353.20" y2="508.10" stroke="#b04a5e" stroke-width="1.15" stroke-dasharray="3.4 2.2"/>
<line x1="401.00" y1="508.10" x2="424.60" y2="508.10" stroke="#b04a5e" stroke-width="1.1"/>
<path d="M328.4,419.3 H333.3 V420.7 H335.5 V421.5 H337 V422.5 H339.1 V424.2 H347.5 V425.5 H348.7 V426.5 H349.8 V427.2 H363.7 V427.8 H382.7 V428.9 H405.3 V430.5 H406.3 V432.1 H413.5 V433.5 H414.5 V435 H415.5 V436.5 H416.5 V438.4 H441 V448 H462.6 V460.9 H497.6" fill="none" stroke="#b0485c" stroke-width="1.2" transform="translate(0,0.35)"/>
<line x1="335.50" y1="419.80" x2="335.50" y2="422.00" stroke="#2a2a2a" stroke-width="0.9"/>
<line x1="344.50" y1="422.50" x2="344.50" y2="424.70" stroke="#2a2a2a" stroke-width="0.9"/>
<line x1="346.50" y1="422.50" x2="346.50" y2="424.70" stroke="#2a2a2a" stroke-width="0.9"/>
<line x1="353.50" y1="425.50" x2="353.50" y2="427.70" stroke="#2a2a2a" stroke-width="0.9"/>
<line x1="355.50" y1="425.50" x2="355.50" y2="427.70" stroke="#2a2a2a" stroke-width="0.9"/>
<line x1="361.00" y1="425.50" x2="361.00" y2="427.70" stroke="#2a2a2a" stroke-width="0.9"/>
<line x1="366.00" y1="426.10" x2="366.00" y2="428.30" stroke="#2a2a2a" stroke-width="0.9"/>
<line x1="371.50" y1="426.10" x2="371.50" y2="428.30" stroke="#2a2a2a" stroke-width="0.9"/>
<line x1="373.00" y1="426.10" x2="373.00" y2="428.30" stroke="#2a2a2a" stroke-width="0.9"/>
<line x1="375.00" y1="426.10" x2="375.00" y2="428.30" stroke="#2a2a2a" stroke-width="0.9"/>
<line x1="378.00" y1="426.10" x2="378.00" y2="428.30" stroke="#2a2a2a" stroke-width="0.9"/>
<line x1="380.00" y1="426.10" x2="380.00" y2="428.30" stroke="#2a2a2a" stroke-width="0.9"/>
<line x1="382.00" y1="426.10" x2="382.00" y2="428.30" stroke="#2a2a2a" stroke-width="0.9"/>
<line x1="386.00" y1="427.20" x2="386.00" y2="429.40" stroke="#2a2a2a" stroke-width="0.9"/>
<line x1="388.00" y1="427.20" x2="388.00" y2="429.40" stroke="#2a2a2a" stroke-width="0.9"/>
<line x1="391.00" y1="427.20" x2="391.00" y2="429.40" stroke="#2a2a2a" stroke-width="0.9"/>
<line x1="393.00" y1="427.20" x2="393.00" y2="429.40" stroke="#2a2a2a" stroke-width="0.9"/>
<line x1="395.00" y1="427.20" x2="395.00" y2="429.40" stroke="#2a2a2a" stroke-width="0.9"/>
<line x1="397.00" y1="427.20" x2="397.00" y2="429.40" stroke="#2a2a2a" stroke-width="0.9"/>
<line x1="399.00" y1="427.20" x2="399.00" y2="429.40" stroke="#2a2a2a" stroke-width="0.9"/>
<line x1="401.00" y1="427.20" x2="401.00" y2="429.40" stroke="#2a2a2a" stroke-width="0.9"/>
<line x1="403.00" y1="427.20" x2="403.00" y2="429.40" stroke="#2a2a2a" stroke-width="0.9"/>
<line x1="408.00" y1="430.40" x2="408.00" y2="432.60" stroke="#2a2a2a" stroke-width="0.9"/>
<line x1="410.00" y1="430.40" x2="410.00" y2="432.60" stroke="#2a2a2a" stroke-width="0.9"/>
<line x1="412.00" y1="430.40" x2="412.00" y2="432.60" stroke="#2a2a2a" stroke-width="0.9"/>
<line x1="419.00" y1="436.70" x2="419.00" y2="438.90" stroke="#2a2a2a" stroke-width="0.9"/>
<line x1="421.00" y1="436.70" x2="421.00" y2="438.90" stroke="#2a2a2a" stroke-width="0.9"/>
<line x1="423.00" y1="436.70" x2="423.00" y2="438.90" stroke="#2a2a2a" stroke-width="0.9"/>
<line x1="425.00" y1="436.70" x2="425.00" y2="438.90" stroke="#2a2a2a" stroke-width="0.9"/>
<line x1="427.00" y1="436.70" x2="427.00" y2="438.90" stroke="#2a2a2a" stroke-width="0.9"/>
<line x1="432.00" y1="436.70" x2="432.00" y2="438.90" stroke="#2a2a2a" stroke-width="0.9"/>
<line x1="434.00" y1="436.70" x2="434.00" y2="438.90" stroke="#2a2a2a" stroke-width="0.9"/>
<line x1="436.00" y1="436.70" x2="436.00" y2="438.90" stroke="#2a2a2a" stroke-width="0.9"/>
<line x1="440.00" y1="436.70" x2="440.00" y2="438.90" stroke="#2a2a2a" stroke-width="0.9"/>
<line x1="446.50" y1="446.30" x2="446.50" y2="448.50" stroke="#2a2a2a" stroke-width="0.9"/>
<line x1="479.00" y1="459.20" x2="479.00" y2="461.40" stroke="#2a2a2a" stroke-width="0.9"/>
<line x1="481.00" y1="459.20" x2="481.00" y2="461.40" stroke="#2a2a2a" stroke-width="0.9"/>
<line x1="497.60" y1="459.20" x2="497.60" y2="461.40" stroke="#2a2a2a" stroke-width="0.9"/>
<path d="M328.4,419.3 H335 V425.7 H337 V427.5 H339 V429.2 H347.5 V430.3 H353.3 V431.5 H355 V432.6 H367.3 V435.3 H372.6 V436.9 H390 V438.5 H392 V440.3 H407.4 V442.8 H412.1 V446.2 H442.8 V455 H472.3" fill="none" stroke="#b0485c" stroke-width="1.4" stroke-dasharray="3.1 2.7" transform="translate(0,0.35)"/>
<line x1="361.00" y1="430.90" x2="361.00" y2="433.10" stroke="#2a2a2a" stroke-width="0.9"/>
<line x1="376.00" y1="435.20" x2="376.00" y2="437.40" stroke="#2a2a2a" stroke-width="0.9"/>
<line x1="379.00" y1="435.20" x2="379.00" y2="437.40" stroke="#2a2a2a" stroke-width="0.9"/>
<line x1="381.00" y1="435.20" x2="381.00" y2="437.40" stroke="#2a2a2a" stroke-width="0.9"/>
<line x1="384.00" y1="435.20" x2="384.00" y2="437.40" stroke="#2a2a2a" stroke-width="0.9"/>
<line x1="387.00" y1="435.20" x2="387.00" y2="437.40" stroke="#2a2a2a" stroke-width="0.9"/>
<line x1="396.00" y1="438.60" x2="396.00" y2="440.80" stroke="#2a2a2a" stroke-width="0.9"/>
<line x1="399.00" y1="438.60" x2="399.00" y2="440.80" stroke="#2a2a2a" stroke-width="0.9"/>
<line x1="402.00" y1="438.60" x2="402.00" y2="440.80" stroke="#2a2a2a" stroke-width="0.9"/>
<line x1="405.00" y1="438.60" x2="405.00" y2="440.80" stroke="#2a2a2a" stroke-width="0.9"/>
<line x1="417.00" y1="444.50" x2="417.00" y2="446.70" stroke="#2a2a2a" stroke-width="0.9"/>
<line x1="423.00" y1="444.50" x2="423.00" y2="446.70" stroke="#2a2a2a" stroke-width="0.9"/>
<line x1="425.00" y1="444.50" x2="425.00" y2="446.70" stroke="#2a2a2a" stroke-width="0.9"/>
<line x1="431.00" y1="444.50" x2="431.00" y2="446.70" stroke="#2a2a2a" stroke-width="0.9"/>
<line x1="434.00" y1="444.50" x2="434.00" y2="446.70" stroke="#2a2a2a" stroke-width="0.9"/>
<line x1="439.00" y1="444.50" x2="439.00" y2="446.70" stroke="#2a2a2a" stroke-width="0.9"/>
<line x1="446.50" y1="453.30" x2="446.50" y2="455.50" stroke="#2a2a2a" stroke-width="0.9"/>
<line x1="456.00" y1="453.30" x2="456.00" y2="455.50" stroke="#2a2a2a" stroke-width="0.9"/>
<line x1="463.50" y1="453.30" x2="463.50" y2="455.50" stroke="#2a2a2a" stroke-width="0.9"/>
<line x1="469.50" y1="453.30" x2="469.50" y2="455.50" stroke="#2a2a2a" stroke-width="0.9"/>
<line x1="472.30" y1="453.30" x2="472.30" y2="455.50" stroke="#2a2a2a" stroke-width="0.9"/>
<g style="filter:grayscale(1)">
<text transform="translate(7.90,17.80) scale(0.8981,1)" font-size="11.8" fill="#1a1a1a">A</text>
<text transform="translate(123.50,18.60) scale(0.9162,1)" font-size="9.6" fill="#231f20">OS by DE status</text>
<text transform="translate(42.20,30.45) scale(0.8569,1)" font-size="8.4" fill="#231f20">1.00</text>
<text transform="translate(41.30,54.12) scale(0.9120,1)" font-size="8.4" fill="#231f20">0.75</text>
<text transform="translate(41.30,77.80) scale(0.9120,1)" font-size="8.4" fill="#231f20">0.50</text>
<text transform="translate(41.30,101.47) scale(0.9120,1)" font-size="8.4" fill="#231f20">0.25</text>
<text transform="translate(41.30,125.15) scale(0.9120,1)" font-size="8.4" fill="#231f20">0.00</text>
<text transform="translate(64.18,140.10) scale(0.9200,1)" font-size="8.3" fill="#231f20">0</text>
<text transform="translate(100.10,140.10) scale(0.9200,1)" font-size="8.3" fill="#231f20">2</text>
<text transform="translate(136.02,140.10) scale(0.9200,1)" font-size="8.3" fill="#231f20">4</text>
<text transform="translate(171.94,140.10) scale(0.9200,1)" font-size="8.3" fill="#231f20">6</text>
<text transform="translate(207.86,140.10) scale(0.9200,1)" font-size="8.3" fill="#231f20">8</text>
<text transform="translate(241.66,140.10) scale(0.9200,1)" font-size="8.3" fill="#231f20">10</text>
<text transform="translate(34.00,117.60) rotate(-90) scale(0.9354,1)" font-size="10.4" fill="#231f20">Proportion surviving</text>
<text transform="translate(131.00,153.70) scale(0.9403,1)" font-size="9.5" fill="#231f20">Time (years)</text>
<text transform="translate(172.60,93.50) scale(1.0205,1)" font-size="7.0" fill="#231f20">P=0.44 (log-rank)</text>
<text transform="translate(96.30,119.10) scale(0.8206,1)" font-size="8.2" fill="#231f20">Not DE</text>
<text transform="translate(156.70,119.10) scale(0.7107,1)" font-size="8.2" fill="#231f20">DE</text>
<text transform="translate(8.00,166.00) scale(0.9262,1)" font-size="8.0" fill="#231f20">Number at risk</text>
<text transform="translate(33.60,177.75) scale(0.9098,1)" font-size="7.6" fill="#231f20">Not DE</text>
<text transform="translate(60.59,177.75) scale(0.9000,1)" font-size="7.6" fill="#231f20">142</text>
<text transform="translate(96.77,177.75) scale(0.9000,1)" font-size="7.6" fill="#231f20">114</text>
<text transform="translate(134.34,177.75) scale(0.9000,1)" font-size="7.6" fill="#231f20">70</text>
<text transform="translate(170.26,177.75) scale(0.9000,1)" font-size="7.6" fill="#231f20">16</text>
<text transform="translate(208.08,177.75) scale(0.9000,1)" font-size="7.6" fill="#231f20">3</text>
<text transform="translate(244.00,177.75) scale(0.9000,1)" font-size="7.6" fill="#231f20">0</text>
<text transform="translate(47.00,187.25) scale(0.8425,1)" font-size="7.6" fill="#231f20">DE</text>
<text transform="translate(62.50,187.25) scale(0.9000,1)" font-size="7.6" fill="#231f20">33</text>
<text transform="translate(98.42,187.25) scale(0.9000,1)" font-size="7.6" fill="#231f20">27</text>
<text transform="translate(134.34,187.25) scale(0.9000,1)" font-size="7.6" fill="#231f20">18</text>
<text transform="translate(172.16,187.25) scale(0.9000,1)" font-size="7.6" fill="#231f20">6</text>
<text transform="translate(208.08,187.25) scale(0.9000,1)" font-size="7.6" fill="#231f20">2</text>
<text transform="translate(244.00,187.25) scale(0.9000,1)" font-size="7.6" fill="#231f20">0</text>
<text transform="translate(269.80,17.80) scale(0.8156,1)" font-size="11.8" fill="#1a1a1a">B</text>
<text transform="translate(384.60,18.60) scale(0.9262,1)" font-size="9.6" fill="#231f20">OS by DH status</text>
<text transform="translate(304.20,32.35) scale(0.8569,1)" font-size="8.4" fill="#231f20">1.00</text>
<text transform="translate(303.30,55.55) scale(0.9120,1)" font-size="8.4" fill="#231f20">0.75</text>
<text transform="translate(303.30,78.75) scale(0.9120,1)" font-size="8.4" fill="#231f20">0.50</text>
<text transform="translate(303.30,101.95) scale(0.9120,1)" font-size="8.4" fill="#231f20">0.25</text>
<text transform="translate(303.30,125.15) scale(0.9120,1)" font-size="8.4" fill="#231f20">0.00</text>
<text transform="translate(326.28,140.20) scale(0.9200,1)" font-size="8.3" fill="#231f20">0</text>
<text transform="translate(362.10,140.20) scale(0.9200,1)" font-size="8.3" fill="#231f20">2</text>
<text transform="translate(397.92,140.20) scale(0.9200,1)" font-size="8.3" fill="#231f20">4</text>
<text transform="translate(433.74,140.20) scale(0.9200,1)" font-size="8.3" fill="#231f20">6</text>
<text transform="translate(469.56,140.20) scale(0.9200,1)" font-size="8.3" fill="#231f20">8</text>
<text transform="translate(503.26,140.20) scale(0.9200,1)" font-size="8.3" fill="#231f20">10</text>
<text transform="translate(296.00,117.60) rotate(-90) scale(0.9354,1)" font-size="10.4" fill="#231f20">Proportion surviving</text>
<text transform="translate(393.00,153.70) scale(0.9403,1)" font-size="9.5" fill="#231f20">Time (years)</text>
<text transform="translate(434.60,93.50) scale(1.0205,1)" font-size="7.0" fill="#231f20">P=0.64 (log-rank)</text>
<text transform="translate(357.90,119.10) scale(0.8737,1)" font-size="8.2" fill="#231f20">Not DH</text>
<text transform="translate(419.50,119.10) scale(0.7849,1)" font-size="8.2" fill="#231f20">DH</text>
<text transform="translate(270.00,166.00) scale(0.9262,1)" font-size="8.0" fill="#231f20">Number at risk</text>
<text transform="translate(294.20,177.75) scale(0.9507,1)" font-size="7.6" fill="#231f20">Not DH</text>
<text transform="translate(324.60,177.75) scale(0.9000,1)" font-size="7.6" fill="#231f20">99</text>
<text transform="translate(360.42,177.75) scale(0.9000,1)" font-size="7.6" fill="#231f20">76</text>
<text transform="translate(396.24,177.75) scale(0.9000,1)" font-size="7.6" fill="#231f20">48</text>
<text transform="translate(432.06,177.75) scale(0.9000,1)" font-size="7.6" fill="#231f20">13</text>
<text transform="translate(469.78,177.75) scale(0.9000,1)" font-size="7.6" fill="#231f20">4</text>
<text transform="translate(505.60,177.75) scale(0.9000,1)" font-size="7.6" fill="#231f20">0</text>
<text transform="translate(307.90,187.25) scale(0.9106,1)" font-size="7.6" fill="#231f20">DH</text>
<text transform="translate(326.50,187.25) scale(0.9000,1)" font-size="7.6" fill="#231f20">7</text>
<text transform="translate(362.32,187.25) scale(0.9000,1)" font-size="7.6" fill="#231f20">6</text>
<text transform="translate(398.14,187.25) scale(0.9000,1)" font-size="7.6" fill="#231f20">6</text>
<text transform="translate(433.96,187.25) scale(0.9000,1)" font-size="7.6" fill="#231f20">2</text>
<text transform="translate(469.78,187.25) scale(0.9000,1)" font-size="7.6" fill="#231f20">0</text>
<text transform="translate(505.60,187.25) scale(0.9000,1)" font-size="7.6" fill="#231f20">0</text>
<text transform="translate(7.90,213.70) scale(0.7651,1)" font-size="11.8" fill="#1a1a1a">C</text>
<text transform="translate(133.50,214.10) scale(0.8864,1)" font-size="9.6" fill="#231f20">OS by COO</text>
<text transform="translate(42.20,226.65) scale(0.8569,1)" font-size="8.4" fill="#231f20">1.00</text>
<text transform="translate(41.30,250.25) scale(0.9120,1)" font-size="8.4" fill="#231f20">0.75</text>
<text transform="translate(41.30,273.85) scale(0.9120,1)" font-size="8.4" fill="#231f20">0.50</text>
<text transform="translate(41.30,297.45) scale(0.9120,1)" font-size="8.4" fill="#231f20">0.25</text>
<text transform="translate(41.30,321.05) scale(0.9120,1)" font-size="8.4" fill="#231f20">0.00</text>
<text transform="translate(64.28,336.20) scale(0.9200,1)" font-size="8.3" fill="#231f20">0</text>
<text transform="translate(100.22,336.20) scale(0.9200,1)" font-size="8.3" fill="#231f20">2</text>
<text transform="translate(136.16,336.20) scale(0.9200,1)" font-size="8.3" fill="#231f20">4</text>
<text transform="translate(172.10,336.20) scale(0.9200,1)" font-size="8.3" fill="#231f20">6</text>
<text transform="translate(208.04,336.20) scale(0.9200,1)" font-size="8.3" fill="#231f20">8</text>
<text transform="translate(241.86,336.20) scale(0.9200,1)" font-size="8.3" fill="#231f20">10</text>
<text transform="translate(34.00,313.70) rotate(-90) scale(0.9420,1)" font-size="10.4" fill="#231f20">Proportion surviving</text>
<text transform="translate(131.00,349.70) scale(0.9403,1)" font-size="9.5" fill="#231f20">Time (years)</text>
<text transform="translate(172.60,289.50) scale(1.0205,1)" font-size="7.0" fill="#231f20">P=0.10 (log-rank)</text>
<text transform="translate(95.90,315.00) scale(0.8383,1)" font-size="8.2" fill="#231f20">Non-GCB</text>
<text transform="translate(165.80,315.00) scale(0.7999,1)" font-size="8.2" fill="#231f20">GCB</text>
<text transform="translate(8.00,362.00) scale(0.9262,1)" font-size="8.0" fill="#231f20">Number at risk</text>
<text transform="translate(26.30,373.75) scale(0.8984,1)" font-size="7.6" fill="#231f20">Non-GCB</text>
<text transform="translate(62.60,373.75) scale(0.9000,1)" font-size="7.6" fill="#231f20">76</text>
<text transform="translate(98.54,373.75) scale(0.9000,1)" font-size="7.6" fill="#231f20">61</text>
<text transform="translate(134.48,373.75) scale(0.9000,1)" font-size="7.6" fill="#231f20">37</text>
<text transform="translate(170.42,373.75) scale(0.9000,1)" font-size="7.6" fill="#231f20">12</text>
<text transform="translate(208.26,373.75) scale(0.9000,1)" font-size="7.6" fill="#231f20">1</text>
<text transform="translate(244.20,373.75) scale(0.9000,1)" font-size="7.6" fill="#231f20">0</text>
<text transform="translate(42.10,383.25) scale(0.8387,1)" font-size="7.6" fill="#231f20">GCB</text>
<text transform="translate(60.95,383.25) scale(0.9000,1)" font-size="7.6" fill="#231f20">116</text>
<text transform="translate(98.54,383.25) scale(0.9000,1)" font-size="7.6" fill="#231f20">98</text>
<text transform="translate(134.48,383.25) scale(0.9000,1)" font-size="7.6" fill="#231f20">58</text>
<text transform="translate(170.66,383.25) scale(0.9000,1)" font-size="7.6" fill="#231f20">11</text>
<text transform="translate(208.26,383.25) scale(0.9000,1)" font-size="7.6" fill="#231f20">4</text>
<text transform="translate(244.20,383.25) scale(0.9000,1)" font-size="7.6" fill="#231f20">0</text>
<text transform="translate(269.80,213.50) scale(0.8828,1)" font-size="11.8" fill="#1a1a1a">D</text>
<text transform="translate(384.40,214.30) scale(0.8964,1)" font-size="9.6" fill="#231f20">PFS by DE status</text>
<text transform="translate(304.20,226.35) scale(0.8569,1)" font-size="8.4" fill="#231f20">1.00</text>
<text transform="translate(303.30,250.03) scale(0.9120,1)" font-size="8.4" fill="#231f20">0.75</text>
<text transform="translate(303.30,273.70) scale(0.9120,1)" font-size="8.4" fill="#231f20">0.50</text>
<text transform="translate(303.30,297.38) scale(0.9120,1)" font-size="8.4" fill="#231f20">0.25</text>
<text transform="translate(303.30,321.05) scale(0.9120,1)" font-size="8.4" fill="#231f20">0.00</text>
<text transform="translate(326.28,336.10) scale(0.9200,1)" font-size="8.3" fill="#231f20">0</text>
<text transform="translate(362.10,336.10) scale(0.9200,1)" font-size="8.3" fill="#231f20">2</text>
<text transform="translate(397.92,336.10) scale(0.9200,1)" font-size="8.3" fill="#231f20">4</text>
<text transform="translate(433.74,336.10) scale(0.9200,1)" font-size="8.3" fill="#231f20">6</text>
<text transform="translate(469.56,336.10) scale(0.9200,1)" font-size="8.3" fill="#231f20">8</text>
<text transform="translate(503.26,336.10) scale(0.9200,1)" font-size="8.3" fill="#231f20">10</text>
<text transform="translate(296.00,313.70) rotate(-90) scale(0.9420,1)" font-size="10.4" fill="#231f20">Proportion surviving</text>
<text transform="translate(393.00,349.70) scale(0.9403,1)" font-size="9.5" fill="#231f20">Time (years)</text>
<text transform="translate(434.60,289.50) scale(1.0205,1)" font-size="7.0" fill="#231f20">P=0.55 (log-rank)</text>
<text transform="translate(358.30,315.00) scale(0.8206,1)" font-size="8.2" fill="#231f20">Not DE</text>
<text transform="translate(418.70,315.00) scale(0.7107,1)" font-size="8.2" fill="#231f20">DE</text>
<text transform="translate(270.00,362.00) scale(0.9262,1)" font-size="8.0" fill="#231f20">Number at risk</text>
<text transform="translate(295.60,373.75) scale(0.9098,1)" font-size="7.6" fill="#231f20">Not DE</text>
<text transform="translate(322.69,373.75) scale(0.9000,1)" font-size="7.6" fill="#231f20">142</text>
<text transform="translate(359.02,373.75) scale(0.9000,1)" font-size="7.6" fill="#231f20">111</text>
<text transform="translate(396.24,373.75) scale(0.9000,1)" font-size="7.6" fill="#231f20">67</text>
<text transform="translate(432.06,373.75) scale(0.9000,1)" font-size="7.6" fill="#231f20">15</text>
<text transform="translate(469.78,373.75) scale(0.9000,1)" font-size="7.6" fill="#231f20">3</text>
<text transform="translate(505.60,373.75) scale(0.9000,1)" font-size="7.6" fill="#231f20">0</text>
<text transform="translate(309.00,383.25) scale(0.8425,1)" font-size="7.6" fill="#231f20">DE</text>
<text transform="translate(324.60,383.25) scale(0.9000,1)" font-size="7.6" fill="#231f20">33</text>
<text transform="translate(360.42,383.25) scale(0.9000,1)" font-size="7.6" fill="#231f20">27</text>
<text transform="translate(396.24,383.25) scale(0.9000,1)" font-size="7.6" fill="#231f20">18</text>
<text transform="translate(433.96,383.25) scale(0.9000,1)" font-size="7.6" fill="#231f20">6</text>
<text transform="translate(469.78,383.25) scale(0.9000,1)" font-size="7.6" fill="#231f20">2</text>
<text transform="translate(505.60,383.25) scale(0.9000,1)" font-size="7.6" fill="#231f20">0</text>
<text transform="translate(7.90,409.30) scale(0.6499,1)" font-size="11.8" fill="#1a1a1a">E</text>
<text transform="translate(122.70,410.10) scale(0.9125,1)" font-size="9.6" fill="#231f20">PFS by DH status</text>
<text transform="translate(42.20,420.95) scale(0.8569,1)" font-size="8.4" fill="#231f20">1.00</text>
<text transform="translate(41.30,444.80) scale(0.9120,1)" font-size="8.4" fill="#231f20">0.75</text>
<text transform="translate(41.30,468.65) scale(0.9120,1)" font-size="8.4" fill="#231f20">0.50</text>
<text transform="translate(41.30,492.50) scale(0.9120,1)" font-size="8.4" fill="#231f20">0.25</text>
<text transform="translate(41.30,516.35) scale(0.9120,1)" font-size="8.4" fill="#231f20">0.00</text>
<text transform="translate(64.38,531.50) scale(0.9200,1)" font-size="8.3" fill="#231f20">0</text>
<text transform="translate(100.76,531.50) scale(0.9200,1)" font-size="8.3" fill="#231f20">2</text>
<text transform="translate(137.14,531.50) scale(0.9200,1)" font-size="8.3" fill="#231f20">4</text>
<text transform="translate(173.52,531.50) scale(0.9200,1)" font-size="8.3" fill="#231f20">6</text>
<text transform="translate(209.90,531.50) scale(0.9200,1)" font-size="8.3" fill="#231f20">8</text>
<text transform="translate(244.16,531.50) scale(0.9200,1)" font-size="8.3" fill="#231f20">10</text>
<text transform="translate(34.00,508.70) rotate(-90) scale(0.9420,1)" font-size="10.4" fill="#231f20">Proportion surviving</text>
<text transform="translate(132.50,544.90) scale(0.9403,1)" font-size="9.5" fill="#231f20">Time (years)</text>
<text transform="translate(172.60,485.00) scale(1.0205,1)" font-size="7.0" fill="#231f20">P=0.80 (log-rank)</text>
<text transform="translate(95.90,510.70) scale(0.8737,1)" font-size="8.2" fill="#231f20">Not DH</text>
<text transform="translate(157.50,510.70) scale(0.7849,1)" font-size="8.2" fill="#231f20">DH</text>
<text transform="translate(8.00,557.50) scale(0.9262,1)" font-size="8.0" fill="#231f20">Number at risk</text>
<text transform="translate(32.20,569.25) scale(0.9507,1)" font-size="7.6" fill="#231f20">Not DH</text>
<text transform="translate(62.70,569.25) scale(0.9000,1)" font-size="7.6" fill="#231f20">99</text>
<text transform="translate(99.08,569.25) scale(0.9000,1)" font-size="7.6" fill="#231f20">75</text>
<text transform="translate(135.46,569.25) scale(0.9000,1)" font-size="7.6" fill="#231f20">47</text>
<text transform="translate(171.84,569.25) scale(0.9000,1)" font-size="7.6" fill="#231f20">13</text>
<text transform="translate(210.12,569.25) scale(0.9000,1)" font-size="7.6" fill="#231f20">4</text>
<text transform="translate(246.50,569.25) scale(0.9000,1)" font-size="7.6" fill="#231f20">0</text>
<text transform="translate(45.90,578.75) scale(0.9106,1)" font-size="7.6" fill="#231f20">DH</text>
<text transform="translate(64.60,578.75) scale(0.9000,1)" font-size="7.6" fill="#231f20">7</text>
<text transform="translate(100.98,578.75) scale(0.9000,1)" font-size="7.6" fill="#231f20">5</text>
<text transform="translate(137.36,578.75) scale(0.9000,1)" font-size="7.6" fill="#231f20">5</text>
<text transform="translate(173.74,578.75) scale(0.9000,1)" font-size="7.6" fill="#231f20">2</text>
<text transform="translate(210.12,578.75) scale(0.9000,1)" font-size="7.6" fill="#231f20">0</text>
<text transform="translate(246.50,578.75) scale(0.9000,1)" font-size="7.6" fill="#231f20">0</text>
<text transform="translate(269.80,409.30) scale(0.6807,1)" font-size="11.8" fill="#1a1a1a">F</text>
<text transform="translate(393.70,410.10) scale(0.8819,1)" font-size="9.6" fill="#231f20">PFS by COO</text>
<text transform="translate(304.20,422.05) scale(0.8569,1)" font-size="8.4" fill="#231f20">1.00</text>
<text transform="translate(303.30,445.62) scale(0.9120,1)" font-size="8.4" fill="#231f20">0.75</text>
<text transform="translate(303.30,469.20) scale(0.9120,1)" font-size="8.4" fill="#231f20">0.50</text>
<text transform="translate(303.30,492.78) scale(0.9120,1)" font-size="8.4" fill="#231f20">0.25</text>
<text transform="translate(303.30,516.35) scale(0.9120,1)" font-size="8.4" fill="#231f20">0.00</text>
<text transform="translate(326.28,531.50) scale(0.9200,1)" font-size="8.3" fill="#231f20">0</text>
<text transform="translate(362.10,531.50) scale(0.9200,1)" font-size="8.3" fill="#231f20">2</text>
<text transform="translate(397.92,531.50) scale(0.9200,1)" font-size="8.3" fill="#231f20">4</text>
<text transform="translate(433.74,531.50) scale(0.9200,1)" font-size="8.3" fill="#231f20">6</text>
<text transform="translate(469.56,531.50) scale(0.9200,1)" font-size="8.3" fill="#231f20">8</text>
<text transform="translate(503.26,531.50) scale(0.9200,1)" font-size="8.3" fill="#231f20">10</text>
<text transform="translate(296.00,508.70) rotate(-90) scale(0.9420,1)" font-size="10.4" fill="#231f20">Proportion surviving</text>
<text transform="translate(393.00,544.90) scale(0.9403,1)" font-size="9.5" fill="#231f20">Time (years)</text>
<text transform="translate(434.60,485.00) scale(1.0205,1)" font-size="7.0" fill="#231f20">P=0.16 (log-rank)</text>
<text transform="translate(357.90,510.70) scale(0.8383,1)" font-size="8.2" fill="#231f20">Non-GCB</text>
<text transform="translate(427.80,510.70) scale(0.7999,1)" font-size="8.2" fill="#231f20">GCB</text>
<text transform="translate(270.00,557.50) scale(0.9262,1)" font-size="8.0" fill="#231f20">Number at risk</text>
<text transform="translate(288.30,569.25) scale(0.8984,1)" font-size="7.6" fill="#231f20">Non-GCB</text>
<text transform="translate(324.60,569.25) scale(0.9000,1)" font-size="7.6" fill="#231f20">76</text>
<text transform="translate(360.42,569.25) scale(0.9000,1)" font-size="7.6" fill="#231f20">61</text>
<text transform="translate(396.24,569.25) scale(0.9000,1)" font-size="7.6" fill="#231f20">35</text>
<text transform="translate(432.30,569.25) scale(0.9000,1)" font-size="7.6" fill="#231f20">11</text>
<text transform="translate(469.78,569.25) scale(0.9000,1)" font-size="7.6" fill="#231f20">1</text>
<text transform="translate(505.60,569.25) scale(0.9000,1)" font-size="7.6" fill="#231f20">0</text>
<text transform="translate(304.10,578.75) scale(0.8387,1)" font-size="7.6" fill="#231f20">GCB</text>
<text transform="translate(322.95,578.75) scale(0.9000,1)" font-size="7.6" fill="#231f20">116</text>
<text transform="translate(360.42,578.75) scale(0.9000,1)" font-size="7.6" fill="#231f20">95</text>
<text transform="translate(396.24,578.75) scale(0.9000,1)" font-size="7.6" fill="#231f20">56</text>
<text transform="translate(432.30,578.75) scale(0.9000,1)" font-size="7.6" fill="#231f20">11</text>
<text transform="translate(469.78,578.75) scale(0.9000,1)" font-size="7.6" fill="#231f20">4</text>
<text transform="translate(505.60,578.75) scale(0.9000,1)" font-size="7.6" fill="#231f20">0</text>
</g>
<rect x="2" y="0" width="1" height="588" fill="#ededed"/>
<rect x="0" y="1" width="520" height="1" fill="#aaa"/>
<rect x="0" y="586" width="520" height="1" fill="#d4d4d4"/>
<rect x="518" y="0" width="1" height="588" fill="#a4a4a4"/>
<rect x="0" y="0" width="520" height="1" fill="#0a0a0a"/>
<rect x="0" y="587" width="520" height="1" fill="#0a0a0a"/>
<rect x="519" y="0" width="1" height="588" fill="#0a0a0a"/>
<rect x="1" y="0" width="1" height="588" fill="#8c8c8c"/>
<rect x="0" y="0" width="1" height="588" fill="#4a4a4a"/>
</svg>
</body></html>
